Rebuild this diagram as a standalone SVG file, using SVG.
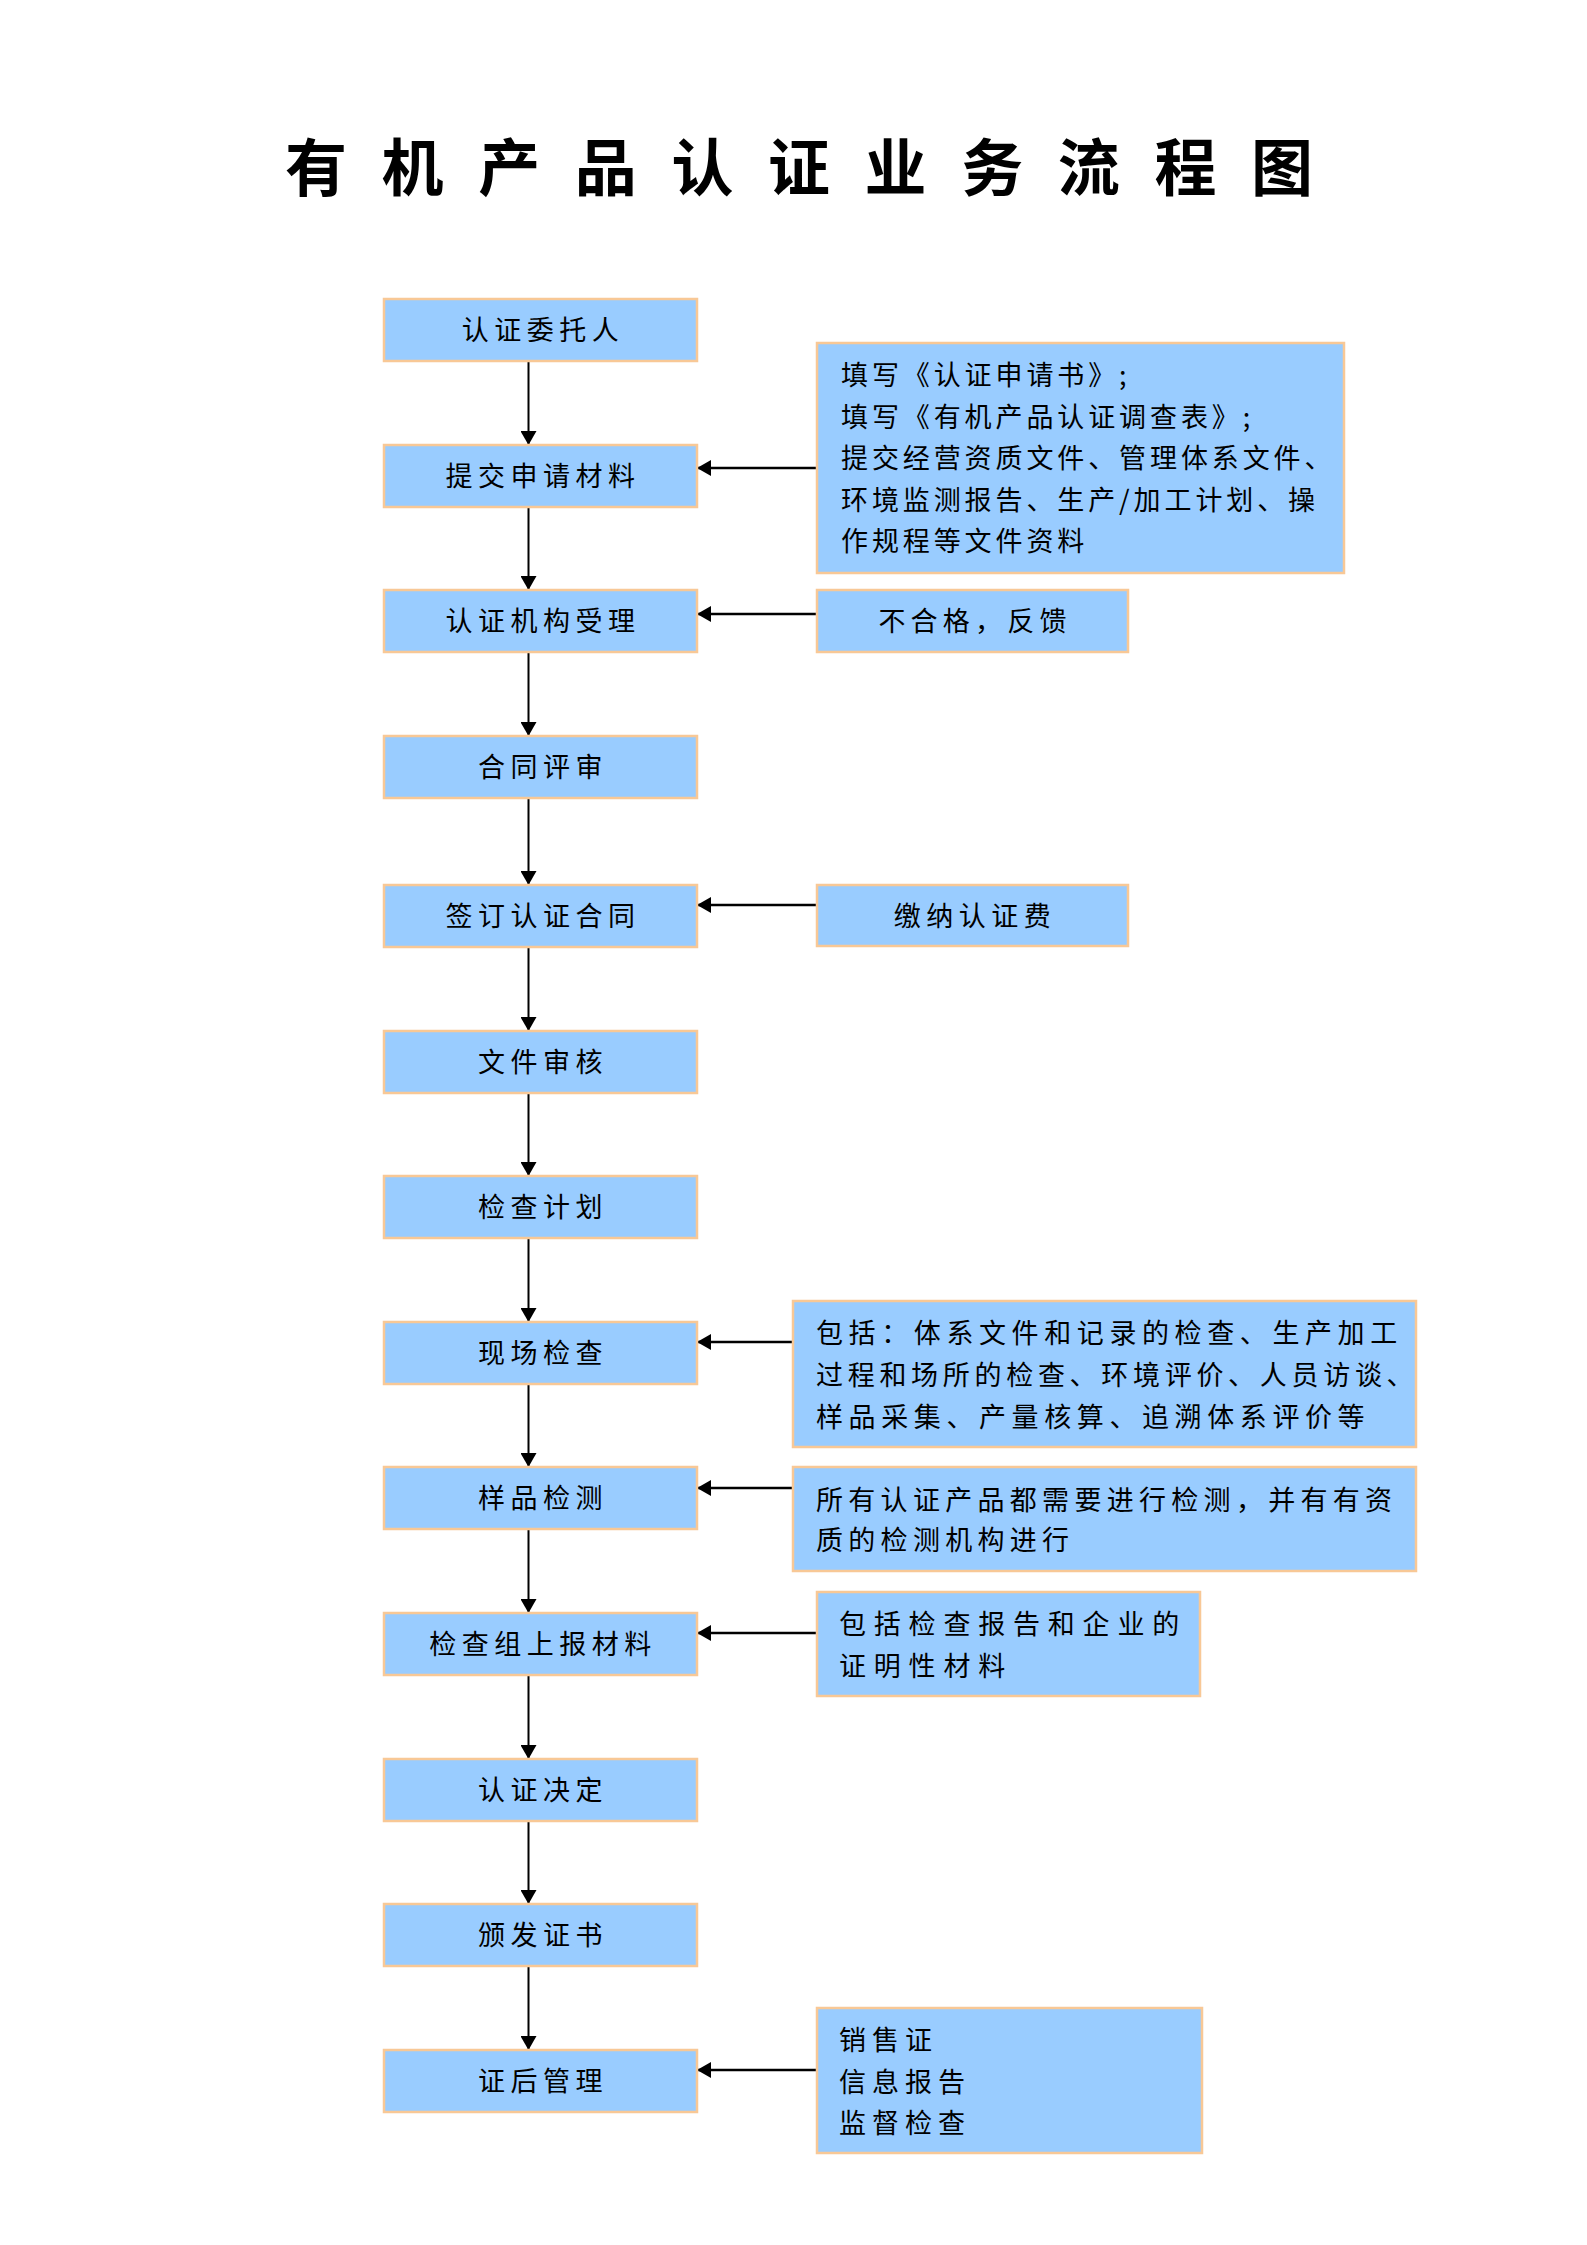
<svg xmlns="http://www.w3.org/2000/svg" width="1587" height="2245" viewBox="0 0 1587 2245">
<style>
.bx{fill:#99CCFF;stroke:#F8C896;stroke-width:2.5}
.t{font-family:"Noto Sans CJK SC","Noto Sans",sans-serif;font-size:27px;fill:#000}
.m{text-anchor:middle;letter-spacing:5.5px}
.title{font-family:"Noto Sans CJK SC","Noto Sans",sans-serif;font-size:62px;font-weight:bold;letter-spacing:34.6px;fill:#000}
.cv{stroke:#000;stroke-width:2;fill:none;marker-end:url(#ah)}
.ch{stroke:#000;stroke-width:2.5;fill:none;marker-end:url(#ah)}
</style>
<defs>
<marker id="ah" viewBox="0 0 14 16" refX="14" refY="8" markerWidth="14" markerHeight="16" orient="auto" markerUnits="userSpaceOnUse"><path d="M0,0 L14,8 L0,16 z" fill="#000"/></marker>
</defs>
<rect width="1587" height="2245" fill="#fff"/>
<text class="title" x="285" y="191">有机产品认证业务流程图</text>

<g id="connectors">
<path class="cv" d="M528.5,361 V445"/>
<path class="cv" d="M528.5,507 V590"/>
<path class="cv" d="M528.5,652 V736"/>
<path class="cv" d="M528.5,798 V885"/>
<path class="cv" d="M528.5,947 V1031"/>
<path class="cv" d="M528.5,1093 V1176"/>
<path class="cv" d="M528.5,1238 V1322"/>
<path class="cv" d="M528.5,1384 V1467"/>
<path class="cv" d="M528.5,1529 V1613"/>
<path class="cv" d="M528.5,1675 V1759"/>
<path class="cv" d="M528.5,1821 V1904"/>
<path class="cv" d="M528.5,1966 V2050"/>
<path class="ch" d="M817,468 H697"/>
<path class="ch" d="M817,614 H697"/>
<path class="ch" d="M817,905 H697"/>
<path class="ch" d="M793,1342 H697"/>
<path class="ch" d="M793,1488 H697"/>
<path class="ch" d="M817,1633 H697"/>
<path class="ch" d="M817,2070 H697"/>
</g>

<g id="n1"><rect class="bx" x="384" y="299" width="313" height="62"/><text class="t m" x="543" y="340">认证委托人</text></g>
<g id="n2"><rect class="bx" x="384" y="445" width="313" height="62"/><text class="t m" x="543" y="486">提交申请材料</text></g>
<g id="n3"><rect class="bx" x="384" y="590" width="313" height="62"/><text class="t m" x="543" y="631">认证机构受理</text></g>
<g id="n4"><rect class="bx" x="384" y="736" width="313" height="62"/><text class="t m" x="543" y="777">合同评审</text></g>
<g id="n5"><rect class="bx" x="384" y="885" width="313" height="62"/><text class="t m" x="543" y="926">签订认证合同</text></g>
<g id="n6"><rect class="bx" x="384" y="1031" width="313" height="62"/><text class="t m" x="543" y="1072">文件审核</text></g>
<g id="n7"><rect class="bx" x="384" y="1176" width="313" height="62"/><text class="t m" x="543" y="1217">检查计划</text></g>
<g id="n8"><rect class="bx" x="384" y="1322" width="313" height="62"/><text class="t m" x="543" y="1363">现场检查</text></g>
<g id="n9"><rect class="bx" x="384" y="1467" width="313" height="62"/><text class="t m" x="543" y="1508">样品检测</text></g>
<g id="n10"><rect class="bx" x="384" y="1613" width="313" height="62"/><text class="t m" x="543" y="1654">检查组上报材料</text></g>
<g id="n11"><rect class="bx" x="384" y="1759" width="313" height="62"/><text class="t m" x="543" y="1800">认证决定</text></g>
<g id="n12"><rect class="bx" x="384" y="1904" width="313" height="62"/><text class="t m" x="543" y="1945">颁发证书</text></g>
<g id="n13"><rect class="bx" x="384" y="2050" width="313" height="62"/><text class="t m" x="543" y="2091">证后管理</text></g>

<g id="r1"><rect class="bx" x="817" y="343" width="527" height="230"/>
<text class="t" style="letter-spacing:3.9px"><tspan x="841" y="385">填写《认证申请书》;</tspan><tspan x="841" y="427">填写《有机产品认证调查表》;</tspan><tspan x="841" y="468">提交经营资质文件、管理体系文件、</tspan><tspan x="841" y="510">环境监测报告、生产/加工计划、操</tspan><tspan x="841" y="551">作规程等文件资料</tspan></text></g>
<g id="r2"><rect class="bx" x="817" y="590" width="311" height="62"/><text class="t" style="text-anchor:middle;letter-spacing:5.2px" x="975" y="631">不合格，反馈</text></g>
<g id="r3"><rect class="bx" x="817" y="885" width="311" height="61"/><text class="t m" x="975" y="926">缴纳认证费</text></g>
<g id="r4"><rect class="bx" x="793" y="1301" width="623" height="146"/>
<text class="t" style="letter-spacing:5.6px"><tspan x="816" y="1343">包括：体系文件和记录的检查、生产加工</tspan><tspan x="816" y="1385" style="letter-spacing:4.7px">过程和场所的检查、环境评价、人员访谈、</tspan><tspan x="816" y="1427">样品采集、产量核算、追溯体系评价等</tspan></text></g>
<g id="r5"><rect class="bx" x="793" y="1467" width="623" height="104"/>
<text class="t" style="letter-spacing:5.3px"><tspan x="816" y="1510">所有认证产品都需要进行检测，并有有资</tspan><tspan x="816" y="1550">质的检测机构进行</tspan></text></g>
<g id="r6"><rect class="bx" x="817" y="1592" width="383" height="104"/>
<text class="t" style="letter-spacing:7.8px"><tspan x="839" y="1634">包括检查报告和企业的</tspan><tspan x="839" y="1676">证明性材料</tspan></text></g>
<g id="r7"><rect class="bx" x="817" y="2008" width="385" height="145"/>
<text class="t" style="letter-spacing:6px"><tspan x="839" y="2050">销售证</tspan><tspan x="839" y="2092">信息报告</tspan><tspan x="839" y="2133">监督检查</tspan></text></g>
</svg>
